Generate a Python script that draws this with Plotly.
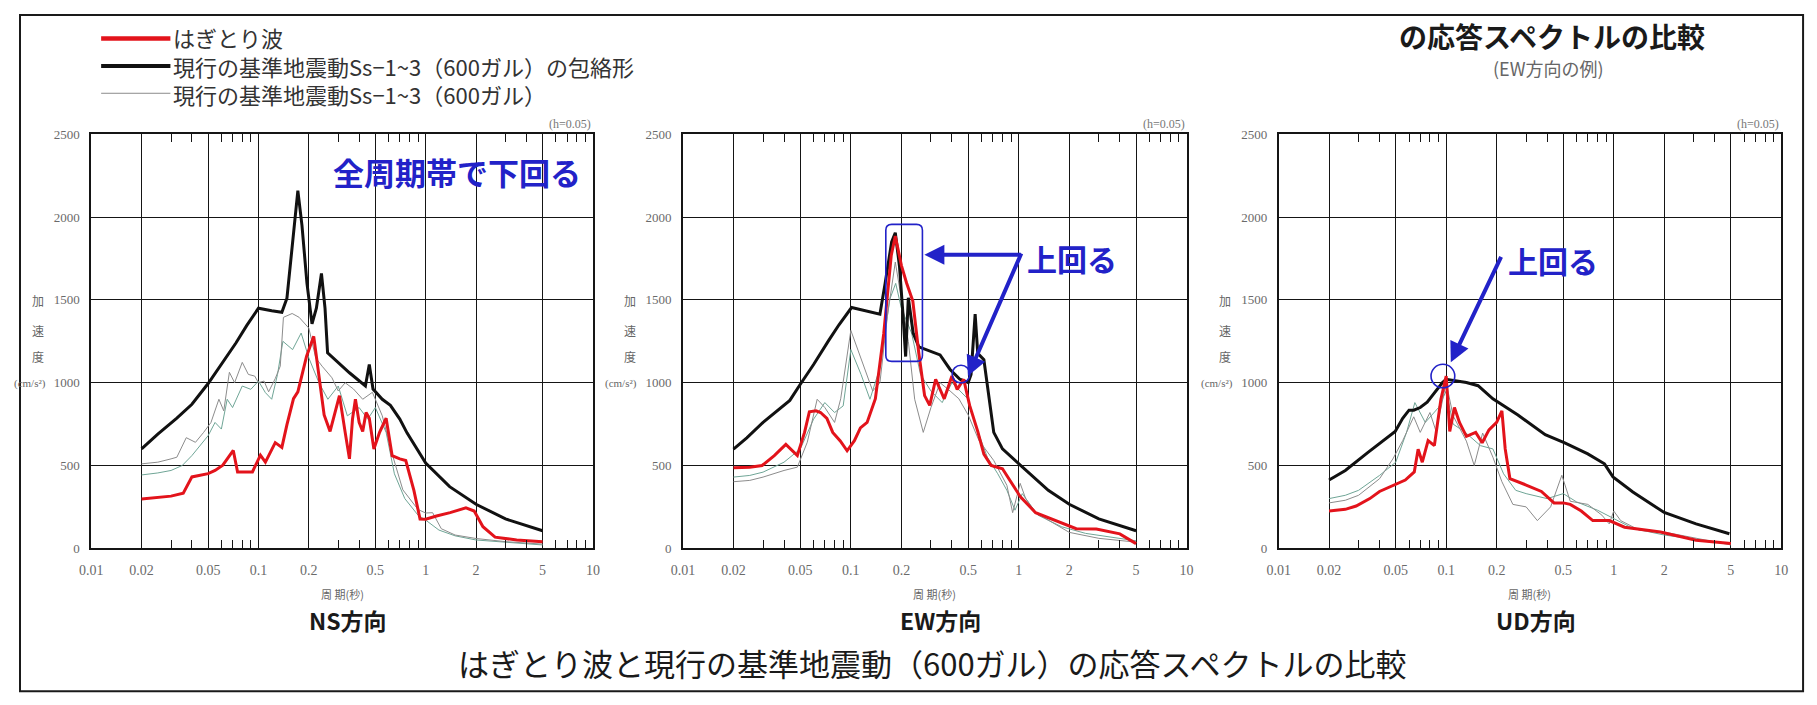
import plotly.graph_objects as go

W, H = 1817, 705
OFF = 8                      # default page margin of the html body
FW, FH = W - OFF, H - OFF    # figure size so that the page is filled exactly

# ---------------- data (period T [s], acceleration [cm/s2]) ----------------
tick_vals = [0.01, 0.02, 0.05, 0.1, 0.2, 0.5, 1, 2, 5, 10]
tick_text = ["0.01", "0.02", "0.05", "0.1", "0.2", "0.5", "1", "2", "5", "10"]
minor_vals = [0.03, 0.04, 0.06, 0.07, 0.08, 0.09, 0.3, 0.4, 0.6, 0.7, 0.8, 0.9,
              3, 4, 6, 7, 8, 9]
y_ticks = [0, 500, 1000, 1500, 2000, 2500]

# NS
ns_env_T = [0.02, 0.025, 0.0325, 0.04, 0.05, 0.06, 0.0733, 0.085, 0.1, 0.12, 0.138, 0.148,
            0.16, 0.172, 0.182, 0.195, 0.209, 0.222, 0.238, 0.25, 0.259, 0.3, 0.35, 0.436,
            0.46, 0.484, 0.55, 0.615, 0.7, 0.773, 0.9, 1.0, 1.39, 2.0, 3.0, 4.0, 5.0]
ns_env_V = [600, 690, 786, 870, 995, 1110, 1240, 1345, 1450, 1435, 1425, 1510,
            1850, 2160, 1950, 1600, 1355, 1450, 1660, 1450, 1180, 1120, 1060, 980,
            1110, 962, 900, 863, 780, 697, 585, 515, 372, 266, 177, 135, 106]
ns_hag_T = [0.02, 0.03, 0.0355, 0.04, 0.05, 0.055, 0.0612, 0.0707, 0.075, 0.092, 0.1027,
            0.11, 0.126, 0.138, 0.148, 0.162, 0.172, 0.194, 0.214, 0.23, 0.247, 0.268,
            0.29, 0.305, 0.33, 0.35, 0.365, 0.38, 0.4, 0.42, 0.44, 0.46, 0.49, 0.53,
            0.58, 0.63, 0.7, 0.76, 0.85, 0.925, 1.0, 1.16, 1.4, 1.74, 1.95, 2.2, 2.6,
            3.5, 5.0]
ns_hag_V = [297, 315, 333, 431, 451, 470, 502, 591, 461, 461, 562,
            520, 638, 609, 747, 904, 945, 1160, 1280, 1050, 805, 706,
            830, 922, 700, 540, 780, 900, 760, 706, 820, 785, 600, 700,
            786, 559, 540, 530, 350, 177, 175, 195, 215, 244, 225, 130, 67,
            50, 40]
ns_ssa_T = [0.02, 0.025, 0.03, 0.0325, 0.037, 0.042, 0.047, 0.052, 0.058, 0.062, 0.067,
            0.072, 0.08, 0.087, 0.095, 0.1, 0.108, 0.115, 0.126, 0.135, 0.141, 0.159,
            0.175, 0.2, 0.22, 0.24, 0.275, 0.3, 0.33, 0.37, 0.42, 0.48, 0.55, 0.63,
            0.73, 0.9, 1.0, 1.1, 1.24, 1.5, 2.0, 3.0, 5.0]
ns_ssa_V = [510, 520, 540, 550, 668, 640, 700, 760, 900, 830, 1063,
            1000, 1123, 1050, 1040, 1000, 1010, 945, 1025, 1100, 1395, 1418,
            1395, 1330, 1150, 1100, 1030, 950, 1000, 962, 900, 942, 800, 570,
            353, 234, 213, 215, 118, 80, 59, 40, 25]
ns_ssb_T = [0.02, 0.025, 0.03, 0.035, 0.04, 0.045, 0.05, 0.055, 0.06, 0.065, 0.07, 0.08,
            0.09, 0.1, 0.11, 0.12, 0.13, 0.14, 0.16, 0.18, 0.2, 0.23, 0.26, 0.3, 0.34,
            0.4, 0.45, 0.5, 0.58, 0.65, 0.75, 0.9, 1.0, 1.2, 1.5, 2.0, 3.0, 5.0]
ns_ssb_V = [443, 455, 470, 500, 560, 620, 680, 760, 720, 900, 850, 980,
            960, 1010, 940, 900, 1050, 1250, 1200, 1300, 1150, 1000, 900, 980, 800,
            850, 780, 850, 700, 450, 300, 200, 170, 110, 75, 50, 35, 20]

# EW
ew_env_T = [0.02, 0.024, 0.03, 0.0433, 0.05, 0.06, 0.074, 0.085, 0.101, 0.12, 0.149,
            0.16, 0.175, 0.184, 0.195, 0.205, 0.212, 0.22, 0.235, 0.254, 0.3, 0.34,
            0.39, 0.446, 0.5, 0.52, 0.55, 0.57, 0.62, 0.66, 0.71, 0.8, 1.0, 1.5, 2.0,
            3.0, 5.0]
ew_env_V = [599, 667, 760, 893, 991, 1110, 1257, 1350, 1454, 1435, 1414,
            1600, 1850, 1906, 1700, 1395, 1158, 1513, 1300, 1217, 1190, 1168,
            1080, 1021, 1001, 1050, 1414, 1178, 1139, 950, 700, 600, 510, 350, 266,
            177, 106]
ew_hag_T = [0.02, 0.025, 0.0296, 0.035, 0.041, 0.048, 0.053, 0.0566, 0.062, 0.066, 0.072,
            0.078, 0.0865, 0.095, 0.105, 0.114, 0.125, 0.14, 0.157, 0.174, 0.184, 0.2,
            0.215, 0.234, 0.254, 0.275, 0.295, 0.32, 0.36, 0.4, 0.43, 0.47, 0.51, 0.57,
            0.62, 0.685, 0.8, 1.02, 1.26, 1.6, 2.2, 2.9, 4.0, 5.0]
ew_hag_V = [487, 490, 500, 560, 628, 560, 700, 824, 830, 820, 785,
            700, 648, 589, 650, 727, 760, 903, 1296, 1768, 1886, 1709,
            1601, 1493, 1178, 922, 863, 1021, 903, 1040, 960, 1021, 863, 706,
            569, 500, 480, 313, 215, 175, 118, 116, 87, 28]
ew_ssa_T = [0.02, 0.025, 0.03, 0.04, 0.048, 0.055, 0.063, 0.07, 0.08, 0.087, 0.1, 0.11,
            0.12, 0.135, 0.149, 0.165, 0.184, 0.2, 0.22, 0.24, 0.27, 0.3, 0.34, 0.39,
            0.44, 0.5, 0.58, 0.71, 0.85, 0.92, 1.02, 1.1, 1.26, 2.0, 3.0, 5.0]
ew_ssa_V = [402, 410, 430, 470, 490, 640, 900, 850, 760, 903, 1316, 1200,
            1100, 950, 1000, 1400, 1729, 1500, 1250, 900, 700, 850, 1000, 950,
            903, 805, 650, 530, 380, 215, 392, 300, 215, 96, 60, 37]
ew_ssb_T = [0.02, 0.025, 0.03, 0.04, 0.05, 0.06, 0.07, 0.08, 0.09, 0.1, 0.115, 0.13,
            0.15, 0.17, 0.185, 0.2, 0.23, 0.26, 0.3, 0.35, 0.4, 0.45, 0.5, 0.55, 0.65,
            0.75, 0.85, 0.95, 1.05, 1.3, 1.8, 2.5, 5.0]
ew_ssb_V = [430, 440, 460, 520, 600, 780, 880, 820, 860, 1200, 1050, 900,
            1100, 1500, 1600, 1450, 1300, 1050, 950, 880, 1000, 950, 900, 750, 550,
            450, 350, 230, 330, 200, 130, 90, 45]

# UD
ud_env_T = [0.02, 0.025, 0.034, 0.0496, 0.055, 0.06, 0.064, 0.07, 0.077, 0.095, 0.1,
            0.132, 0.155, 0.19, 0.268, 0.39, 0.51, 0.7, 0.88, 0.99, 1.3, 2.0, 3.1, 4.9]
ud_env_V = [412, 470, 578, 706, 785, 834, 834, 850, 883, 1001, 1021,
            1001, 982, 903, 805, 686, 637, 570, 510, 431, 340, 216, 147, 88]
ud_hag_T = [0.02, 0.025, 0.029, 0.035, 0.04, 0.0496, 0.057, 0.0645, 0.068, 0.072, 0.078,
            0.085, 0.093, 0.1, 0.105, 0.112, 0.12, 0.132, 0.15, 0.164, 0.18, 0.2, 0.215,
            0.225, 0.24, 0.3, 0.37, 0.44, 0.5, 0.55, 0.64, 0.75, 0.94, 1.16, 1.9, 3.1,
            5.0]
ud_hag_V = [225, 235, 255, 300, 343, 382, 412, 461, 598, 520, 650,
            620, 900, 1040, 706, 850, 760, 676, 700, 637, 715, 760, 830,
            600, 421, 382, 343, 274, 274, 265, 225, 167, 167, 127, 98, 49,
            29]
ud_ssa_T = [0.02, 0.025, 0.03, 0.04, 0.048, 0.055, 0.064, 0.07, 0.08, 0.087, 0.1, 0.11,
            0.132, 0.147, 0.165, 0.19, 0.215, 0.25, 0.3, 0.35, 0.42, 0.49, 0.55, 0.7,
            0.85, 0.94, 1.0, 1.1, 1.43, 2.0, 5.0]
ud_ssa_V = [274, 290, 320, 420, 539, 650, 794, 700, 820, 706, 1000, 800,
            647, 500, 696, 550, 402, 265, 250, 167, 250, 441, 284, 265,
            200, 147, 225, 167, 108, 98, 20]
ud_ssb_T = [0.02, 0.025, 0.03, 0.04, 0.05, 0.058, 0.065, 0.075, 0.09, 0.1, 0.11, 0.13,
            0.16, 0.19, 0.22, 0.26, 0.3, 0.4, 0.5, 0.6, 0.8, 1.0, 1.3, 2.0, 5.0]
ud_ssb_V = [300, 320, 350, 440, 520, 700, 880, 760, 850, 950, 750, 700,
            620, 600, 450, 350, 330, 300, 330, 280, 230, 180, 120, 80, 25]

panel_names = ["NS方向", "EW方向", "UD方向"]
legend_names = ["はぎとり波",
                "現行の基準地震動Ss−1~3（600ガル）の包絡形",
                "現行の基準地震動Ss−1~3（600ガル）"]

series = [
    (ns_env_T, ns_env_V, ns_hag_T, ns_hag_V, ns_ssa_T, ns_ssa_V, ns_ssb_T, ns_ssb_V),
    (ew_env_T, ew_env_V, ew_hag_T, ew_hag_V, ew_ssa_T, ew_ssa_V, ew_ssb_T, ew_ssb_V),
    (ud_env_T, ud_env_V, ud_hag_T, ud_hag_V, ud_ssa_T, ud_ssa_V, ud_ssb_T, ud_ssb_V),
]

# ---------------- layout geometry (pixels in the 1817x705 picture) ----------------
PLOT_L = [80, 678, 1280]
PLOT_R = [587, 1187, 1788]
PLOT_T, PLOT_B = 130, 553

RED = "#e3131b"
BLACK = "#111111"
GRAY = "#8c8c8c"
GREEN = "#6fa596"
BLUE = "#2222c8"
JP = "Noto Sans CJK JP"
SERIF = "Liberation Serif"


def px(x):
    return (x - OFF) / FW


def py(y):
    return 1 - (y - OFF) / FH


fig = go.Figure()
annotations = []
shapes = []

for i in range(3):
    env_T, env_V, hag_T, hag_V, sa_T, sa_V, sb_T, sb_V = series[i]
    xa = "x" if i == 0 else f"x{i+1}"
    ya = "y" if i == 0 else f"y{i+1}"
    fig.add_trace(go.Scatter(x=sb_T, y=sb_V, mode="lines", xaxis=xa, yaxis=ya,
                             line=dict(color=GREEN, width=1), showlegend=False,
                             name=legend_names[2]))
    fig.add_trace(go.Scatter(x=sa_T, y=sa_V, mode="lines", xaxis=xa, yaxis=ya,
                             line=dict(color=GRAY, width=1), showlegend=False,
                             name=legend_names[2]))
    fig.add_trace(go.Scatter(x=env_T, y=env_V, mode="lines", xaxis=xa, yaxis=ya,
                             line=dict(color=BLACK, width=3), showlegend=False,
                             name=legend_names[1]))
    fig.add_trace(go.Scatter(x=hag_T, y=hag_V, mode="lines", xaxis=xa, yaxis=ya,
                             line=dict(color=RED, width=3), showlegend=False,
                             name=legend_names[0]))

    xkey = "xaxis" if i == 0 else f"xaxis{i+1}"
    ykey = "yaxis" if i == 0 else f"yaxis{i+1}"
    fig.layout[xkey] = dict(
        domain=[px(PLOT_L[i]), px(PLOT_R[i])], anchor=ya, type="log", range=[-2, 1],
        tickmode="array", tickvals=tick_vals, ticktext=tick_text,
        showgrid=True, gridcolor="#151515", gridwidth=1.4,
        showline=True, linecolor="#151515", linewidth=1.8, mirror="ticks",
        ticks="inside", ticklen=0, ticklabelstandoff=8,
        tickfont=dict(family=SERIF, size=14, color="#6a6a6a"),
        minor=dict(tickvals=minor_vals, ticks="inside", ticklen=8, tickwidth=1.3,
                   tickcolor="#151515", showgrid=False),
        zeroline=False, fixedrange=True,
    )
    fig.layout[ykey] = dict(
        domain=[py(PLOT_B), py(PLOT_T)], anchor=xa, range=[0, 2500],
        tickmode="array", tickvals=y_ticks,
        showgrid=True, gridcolor="#151515", gridwidth=1.4,
        showline=True, linecolor="#151515", linewidth=1.8, mirror=True,
        ticks="", tickfont=dict(family=SERIF, size=13, color="#6a6a6a"),
        ticklabelstandoff=7, zeroline=False, fixedrange=True,
    )

    cx = (PLOT_L[i] + PLOT_R[i]) / 2
    annotations.append(dict(x=px(PLOT_R[i]), y=py(119), xref="paper", yref="paper",
                            text="(h=0.05)", showarrow=False, xanchor="right",
                            yanchor="middle", font=dict(family=SERIF, size=12, color="#777")))
    annotations.append(dict(x=px(cx), y=py(600), xref="paper", yref="paper",
                            text="周 期(秒)", showarrow=False, xanchor="center",
                            yanchor="middle", font=dict(family=JP, size=11, color="#666")))
    annotations.append(dict(x=px(cx + 6), y=py(626), xref="paper", yref="paper",
                            text=f"<b>{panel_names[i]}</b>", showarrow=False,
                            xanchor="center", yanchor="middle",
                            font=dict(family=JP, size=23, color="#1a1a1a")))
    for ch, yy in (("加", 300), ("速", 330), ("度", 357)):
        annotations.append(dict(x=px(PLOT_L[i] - 54), y=py(yy), xref="paper",
                                yref="paper", text=ch, showarrow=False,
                                xanchor="center", yanchor="middle",
                                font=dict(family=JP, size=12, color="#666")))
    annotations.append(dict(x=px(PLOT_L[i] - 44), y=py(385), xref="paper", yref="paper",
                            text="(cm/s²)", showarrow=False, xanchor="right",
                            yanchor="middle", font=dict(family=SERIF, size=11, color="#666")))

# legend: long line samples plus one multi-line text block
leg_rows = [32, 60, 88]
leg_styles = [(RED, 4.5), (BLACK, 4), (GRAY, 1)]
for (col, wd), yy in zip(leg_styles, leg_rows):
    shapes.append(dict(type="line", xref="paper", yref="paper", x0=px(90), x1=px(160),
                       y0=py(yy), y1=py(yy), line=dict(color=col, width=wd)))
annotations.append(dict(x=px(161), y=py(60), xref="paper", yref="paper",
                        text="<br>".join(legend_names), showarrow=False, align="left",
                        xanchor="left", yanchor="middle",
                        font=dict(family=JP, size=22, color="#333")))

# blue callouts
annotations.append(dict(x=px(450), y=py(168), xref="paper", yref="paper",
                        text="<b>全周期帯で下回る</b>", showarrow=False, xanchor="center",
                        yanchor="middle", font=dict(family=JP, size=31, color=BLUE)))
annotations.append(dict(x=px(1071), y=py(256), xref="paper", yref="paper",
                        text="<b>上回る</b>", showarrow=False, xanchor="center",
                        yanchor="middle", font=dict(family=JP, size=30, color=BLUE)))
annotations.append(dict(x=px(1557), y=py(258), xref="paper", yref="paper",
                        text="<b>上回る</b>", showarrow=False, xanchor="center",
                        yanchor="middle", font=dict(family=JP, size=30, color=BLUE)))
for hx, hy, tx, ty in ((922, 253, 1020, 253), (966, 377, 1020, 253), (1454, 363, 1505, 256)):
    annotations.append(dict(x=px(hx), y=py(hy), xref="paper", yref="paper", text="",
                            showarrow=True, ax=tx - hx, ay=ty - hy, arrowhead=2,
                            arrowsize=1, arrowwidth=4, arrowcolor=BLUE))

# highlight box (rounded) and circles
bx0, bx1, by0, by1, r = 883, 920, 222, 362, 6
path = (f"M {px(bx0 + r)} {py(by0)} L {px(bx1 - r)} {py(by0)} "
        f"Q {px(bx1)} {py(by0)} {px(bx1)} {py(by0 + r)} L {px(bx1)} {py(by1 - r)} "
        f"Q {px(bx1)} {py(by1)} {px(bx1 - r)} {py(by1)} L {px(bx0 + r)} {py(by1)} "
        f"Q {px(bx0)} {py(by1)} {px(bx0)} {py(by1 - r)} L {px(bx0)} {py(by0 + r)} "
        f"Q {px(bx0)} {py(by0)} {px(bx0 + r)} {py(by0)} Z")
shapes.append(dict(type="path", xref="paper", yref="paper", path=path,
                   line=dict(color=BLUE, width=1.6)))
for cxp, cyp, rr in ((959, 375, 9), (1446, 377, 12)):
    shapes.append(dict(type="circle", xref="paper", yref="paper",
                       x0=px(cxp - rr), x1=px(cxp + rr), y0=py(cyp + rr), y1=py(cyp - rr),
                       line=dict(color=BLUE, width=1.6)))

# titles
annotations.append(dict(x=px(930), y=py(670), xref="paper", yref="paper",
                        text="はぎとり波と現行の基準地震動（600ガル）の応答スペクトルの比較",
                        showarrow=False, xanchor="center", yanchor="middle",
                        font=dict(family=JP, size=31, color="#1a1a1a")))
annotations.append(dict(x=px(1556), y=py(29), xref="paper", yref="paper",
                        text="<b>の応答スペクトルの比較</b>", showarrow=False,
                        xanchor="center", yanchor="middle",
                        font=dict(family=JP, size=28, color="#1a1a1a")))
annotations.append(dict(x=px(1553), y=py(62), xref="paper", yref="paper",
                        text="(EW方向の例)", showarrow=False, xanchor="center",
                        yanchor="middle", font=dict(family=JP, size=18, color="#666")))

# outer frame
shapes.append(dict(type="rect", xref="paper", yref="paper", x0=px(8), x1=px(1810),
                   y0=py(699), y1=py(8), line=dict(color="#1a1a1a", width=2)))

fig.update_layout(width=FW, height=FH, margin=dict(l=0, r=0, t=0, b=0),
                  paper_bgcolor="white", plot_bgcolor="white", showlegend=False,
                  annotations=annotations, shapes=shapes)

fig.write_html("out.html")
